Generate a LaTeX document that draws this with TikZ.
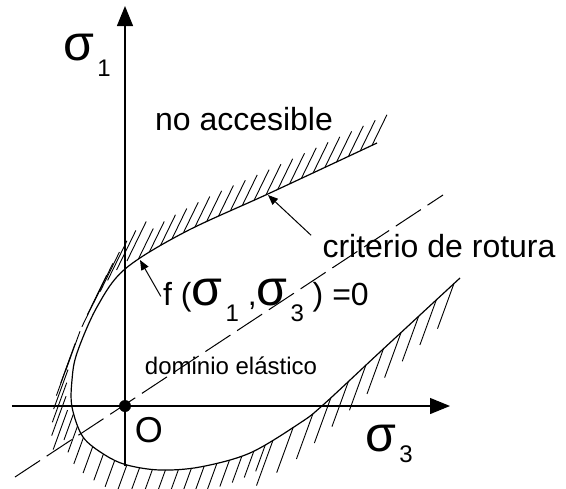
\documentclass[tikz,border=0pt]{standalone}
\usepackage{fontspec}
\setmainfont{Liberation Sans}
\usetikzlibrary{arrows.meta,decorations.markings}
\newcommand{\sigsub}[2][8pt]{{\fontsize{25pt}{25pt}\selectfont σ}\kern1.5pt\raisebox{-#1}{\fontsize{12pt}{12pt}\selectfont #2}}

\begin{document}
\begin{tikzpicture}[x=0.5pt, y=0.5pt,
  axis/.style={line width=0.6pt, -{Triangle[length=10pt, width=8pt]}},
  pointer/.style={line width=0.5pt, -{Triangle[length=5pt, width=4pt]}},
  trace/.style={line width=0.5pt, dash pattern=on 15pt off 4pt},
  txt/.style={inner sep=0pt, anchor=base, font=\fontsize{16pt}{18pt}\selectfont},
  hatchline/.style={line width=0.45pt},
  hatched/.style={postaction={decorate, decoration={markings,
      mark=between positions 0.006 and 0.30 step 6.5pt with
        {\pgftransformresetnontranslations \draw[hatchline] (0,0) -- (64:17pt);},
      mark=between positions 0.30 and 0.386 step 6.5pt with
        {\pgftransformshift{\pgfpoint{0pt}{-2.5pt}}\pgftransformresetnontranslations
         \draw[hatchline] (0,0) -- (64:22pt);},
      mark=between positions 0.39 and 0.48 step 6.5pt with
        {\pgftransformshift{\pgfpoint{0pt}{-2.5pt}}\pgftransformresetnontranslations
         \draw[hatchline] (0,0) -- (250:21pt);},
      mark=between positions 0.48 and 0.73 step 6.5pt with
        {\pgftransformresetnontranslations \draw[hatchline] (0,0) -- (250:14pt);},
      mark=between positions 0.73 and 0.995 step 12pt with
        {\pgftransformresetnontranslations \draw[hatchline] (0,0) -- (250:24pt);}}}},
]
  \useasboundingbox (-125,-82) rectangle (441,406);
  % axes
  \coordinate (hstart) at (-113,0);
  \coordinate (hend) at (325,0);
  \coordinate (vstart) at (0,-60);
  \coordinate (vend) at (0,400);
  \draw[axis] (hstart) -- (hend);
  \draw[axis] (vstart) -- (vend);
  \node[txt] (sigone) at (-38,346) {\sigsub{1}};
  \node[txt] (sigthree) at (264,-45) {\sigsub[5.5pt]{3}};
  % trace of the principal diagonal
  \coordinate (dlow) at (-110,-71);
  \coordinate (dhigh) at (318,211);
  \draw[trace] (dlow) -- (dhigh);
  % failure envelope
  \draw[line width=0.6pt, hatched] plot[smooth, tension=0.55] coordinates {
    (252,263) (145,213) (60,174) (0,137) (-28,99) (-48,53) (-53,26) (-53,-1)
    (-42,-31) (-20,-49) (2,-59) (35,-64) (75,-61) (125,-47) (175,-17) (198,1)
    (255,54) (335,128)};
  \coordinate (tipcrit) at (143,211);
  \coordinate (tipf) at (15,146);
  % labels
  \node[txt] (noacc) at (119,276) {no accesible};
  \node[txt] (crit) at (314,149) {criterio de rotura};
  \node[txt] (fexpr) at (141,101) {f (\sigsub{1} ,\sigsub{3} ) =0};
  \node[txt, font=\fontsize{12pt}{14pt}\selectfont] (dom) at (106,32) {dominio elástico};
  \node[txt, font=\fontsize{18pt}{20pt}\selectfont] (orig) at (24,-36) {O};
  \draw[pointer, shorten <=7.5pt] (crit.west) -- (tipcrit);
  \draw[pointer, shorten <=2pt] (fexpr.west) -- (tipf);
  \node[circle, fill, inner sep=0pt, minimum size=6pt] (dot) at (0,0) {};
\end{tikzpicture}
\end{document}
